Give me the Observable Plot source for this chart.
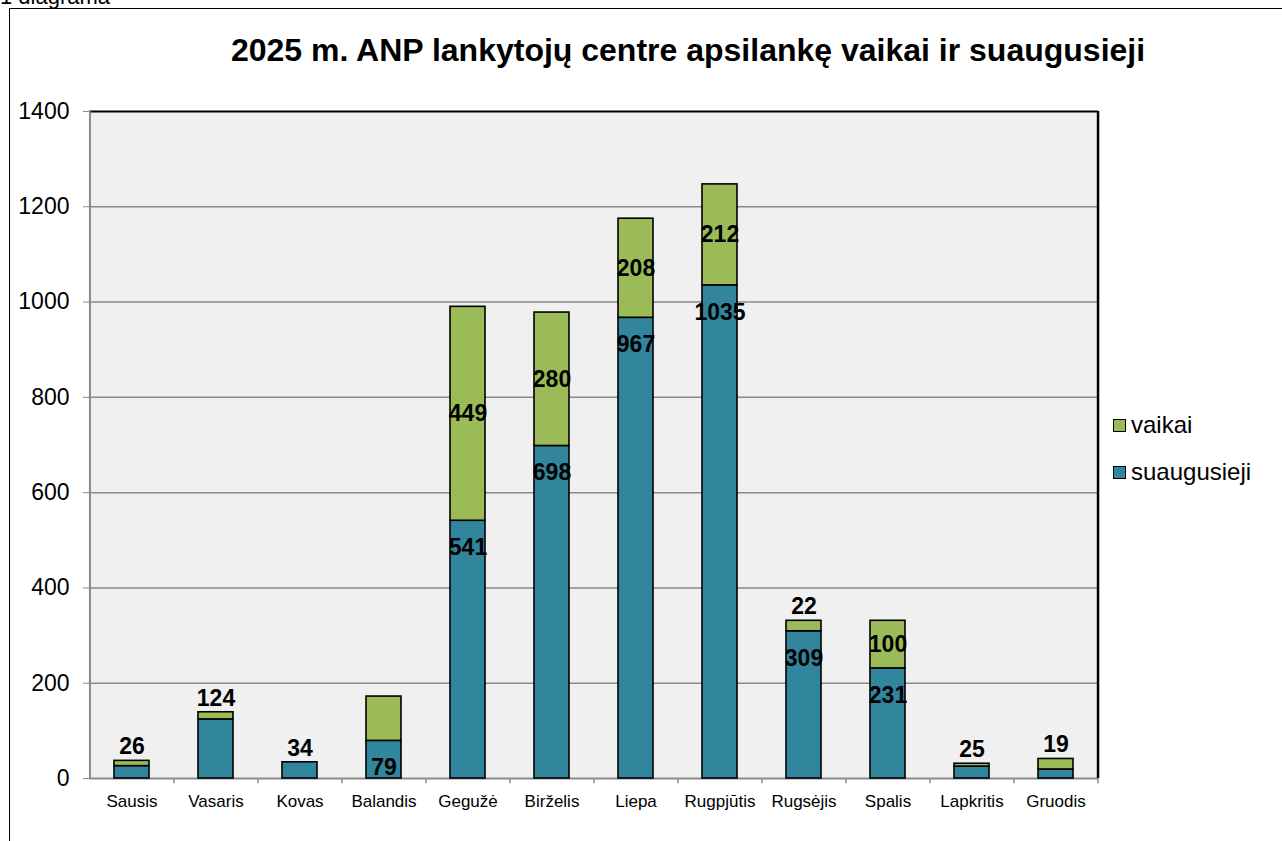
<!DOCTYPE html>
<html>
<head>
<meta charset="utf-8">
<script src="https://cdn.jsdelivr.net/npm/d3@7"></script>
<script src="https://cdn.jsdelivr.net/npm/@observablehq/plot@0.6"></script>
<style>
  html, body { margin: 0; padding: 0; background: #fff; }
  body { width: 1282px; height: 841px; position: relative; overflow: hidden; font-family: "Liberation Sans", Arial, sans-serif; }
  #frame { position: absolute; left: 9px; top: 8px; width: 1400px; height: 900px; border-left: 1.5px solid #000; border-top: 1.5px solid #000; box-sizing: border-box; }
  #caption { position: absolute; left: 0px; top: -16px; font-size: 22px; color: #000; }
  #title { position: absolute; left: 90px; width: 1196px; top: 32px; text-align: center; font-weight: bold; font-size: 32px; color: #000; white-space: nowrap; }
  #chart { position: absolute; left: 0; top: 0; }
  #legend { position: absolute; left: 1113px; top: 413px; font-size: 24px; color: #000; }
  .item { display: flex; align-items: center; height: 24px; margin-bottom: 23px; }
  .sw { width: 11px; height: 11px; border: 1px solid #000; margin-right: 5px; }
</style>
</head>
<body>
<div id="caption">1 diagrama</div>
<div id="frame"></div>
<div id="chart"></div>
<div id="title">2025 m. ANP lankytojų centre apsilankę vaikai ir suaugusieji</div>
<div id="legend"></div>
<script>
// ---- data ----
const months = ["Sausis","Vasaris","Kovas","Balandis","Gegužė","Birželis","Liepa","Rugpjūtis","Rugsėjis","Spalis","Lapkritis","Gruodis"];
const suaugusieji = [26, 124, 34, 79, 541, 698, 967, 1035, 309, 231, 25, 19];
const vaikai      = [11, 15, 0, 93, 449, 280, 208, 212, 22, 100, 6, 22];
const labelsSuaugusieji = [26, 124, 34, 79, 541, 698, 967, 1035, 309, 231, 25, 19];
const labelsVaikai      = [null, null, null, null, 449, 280, 208, 212, 22, 100, null, null];
const seriesNames = ["suaugusieji", "vaikai"];
const yTicks = [0, 200, 400, 600, 800, 1000, 1200, 1400];

const colors = {suaugusieji: "#31859c", vaikai: "#9bbb59"};

// ---- table ----
const rows = [];
months.forEach((m, i) => {
  rows.push({month: m, series: "suaugusieji", value: suaugusieji[i]});
  rows.push({month: m, series: "vaikai", value: vaikai[i]});
});

const labels = [];
months.forEach((m, i) => {
  const total = suaugusieji[i] + vaikai[i];
  if (labelsVaikai[i] != null) {
    if (vaikai[i] < 40) labels.push({month: m, y: total, text: String(labelsVaikai[i]), pos: "above"});
    else labels.push({month: m, y: suaugusieji[i] + vaikai[i] / 2, text: String(labelsVaikai[i]), pos: "mid"});
  }
  if (labelsSuaugusieji[i] != null) {
    if (vaikai[i] < 40 && labelsVaikai[i] == null) labels.push({month: m, y: total, text: String(labelsSuaugusieji[i]), pos: "above"});
    else labels.push({month: m, y: suaugusieji[i], text: String(labelsSuaugusieji[i]), pos: "inside"});
  }
});

const W = 1282, H = 841;
const mL = 89, mR = 184, mT = 111, mB = 63;
const step = (W - mL - mR) / months.length;
const gray = "#8a8a8a";

const chart = Plot.plot({
  width: W, height: H,
  marginLeft: mL, marginRight: mR, marginTop: mT, marginBottom: mB,
  style: {fontFamily: "'Liberation Sans', Arial, sans-serif", background: "transparent", overflow: "visible"},
  x: {domain: months, paddingInner: 0.58, paddingOuter: 0.29, label: null},
  y: {domain: [0, 1400], label: null},
  marks: [
    Plot.frame({fill: "#f0f0f0", stroke: null}),
    Plot.ruleY(yTicks.slice(1, -1), {stroke: gray, strokeWidth: 1.5}),
    Plot.ruleY([1400], {stroke: "#000", strokeWidth: 2}),
    Plot.ruleY([0], {stroke: gray, strokeWidth: 2}),
    Plot.ruleX([months[0]], {dx: -step / 2, stroke: gray, strokeWidth: 2}),
    Plot.ruleX(months.slice(1), {dx: -step / 2, y1: 0, y2: -11, stroke: gray, strokeWidth: 1.5}),
    Plot.ruleX([months[months.length - 1]], {dx: step / 2, y1: 0, y2: -11, stroke: gray, strokeWidth: 1.5}),
    Plot.ruleX([months[months.length - 1]], {dx: step / 2, y1: 0, y2: 1400, stroke: "#000", strokeWidth: 2.5}),
    Plot.axisY({ticks: yTicks, tickFormat: d => String(d), tickSize: 6, tickPadding: 14, stroke: gray, fontSize: 23, fill: "#000", label: null}),
    Plot.axisX({tickSize: 0, tickPadding: 16, fontSize: 17, fill: "#000", label: null}),
    Plot.barY(rows, {x: "month", y: "value", fill: d => colors[d.series], stroke: "#000", strokeWidth: 1.6, order: seriesNames}),
    Plot.text(labels.filter(d => d.pos === "mid"), {x: "month", y: "y", text: "text", fontSize: 23, fontWeight: "bold", fill: "#000"}),
    Plot.text(labels.filter(d => d.pos === "inside"), {x: "month", y: "y", text: "text", dy: 27, fontSize: 23, fontWeight: "bold", fill: "#000"}),
    Plot.text(labels.filter(d => d.pos === "above"), {x: "month", y: "y", text: "text", dy: -14, fontSize: 23, fontWeight: "bold", fill: "#000"})
  ]
});
document.getElementById("chart").appendChild(chart);

// legend
const legend = document.getElementById("legend");
["vaikai", "suaugusieji"].forEach(s => {
  const it = document.createElement("div");
  it.className = "item";
  const sw = document.createElement("div");
  sw.className = "sw";
  sw.style.background = colors[s];
  const t = document.createElement("span");
  t.textContent = s;
  it.appendChild(sw); it.appendChild(t);
  legend.appendChild(it);
});
</script>
</body>
</html>
